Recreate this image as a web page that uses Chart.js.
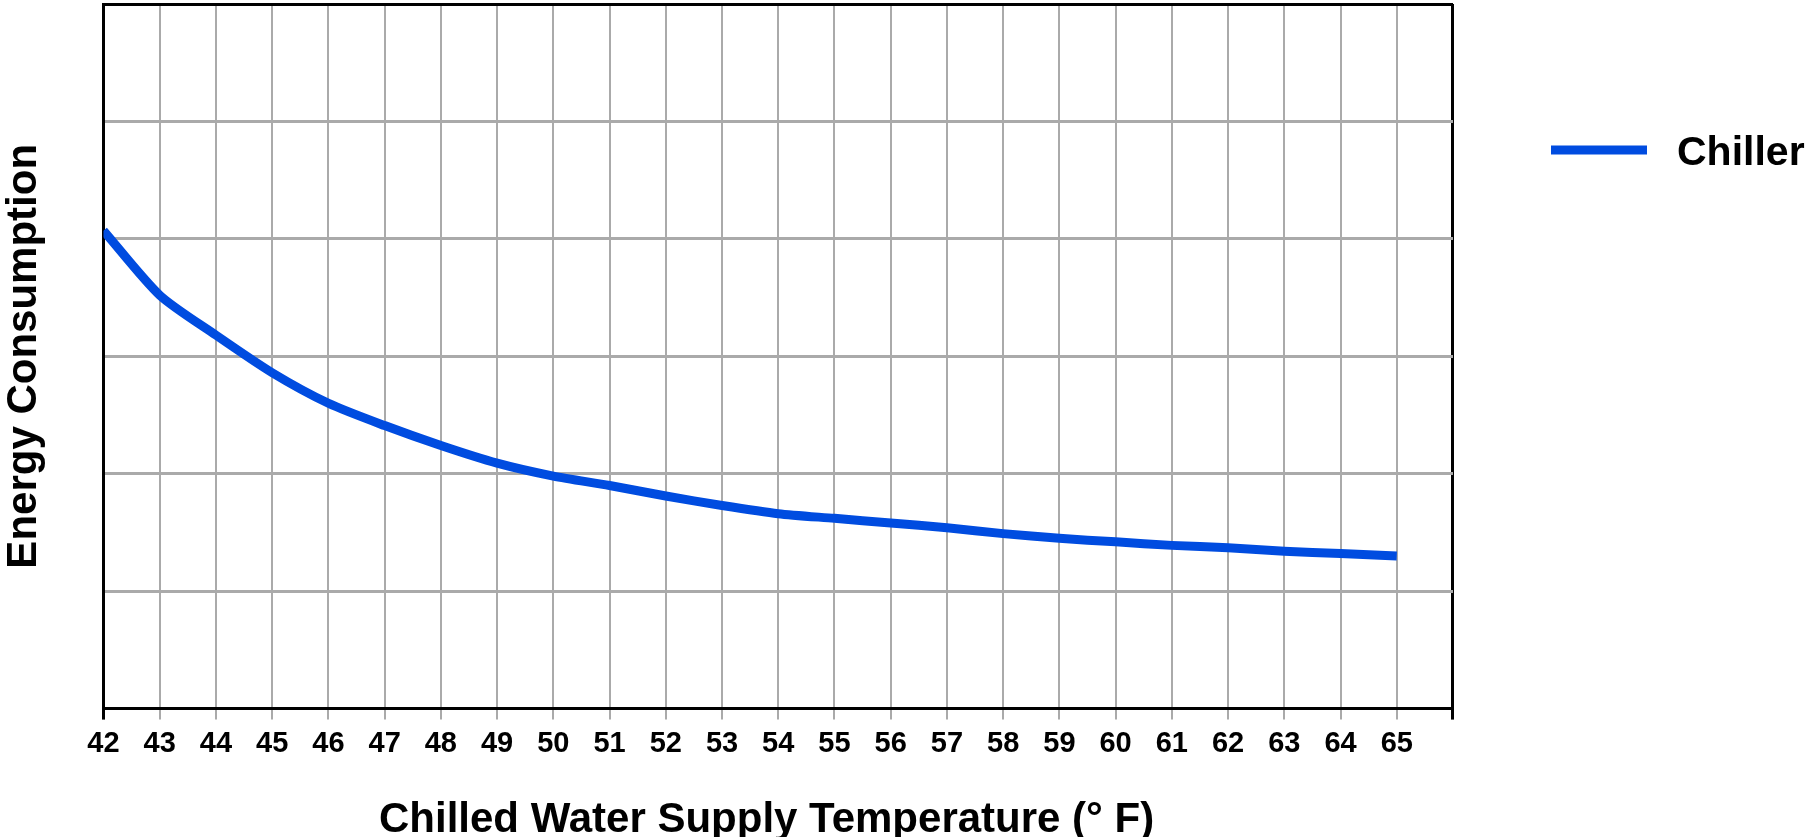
<!DOCTYPE html>
<html>
<head>
<meta charset="utf-8">
<script src="https://cdn.jsdelivr.net/npm/chart.js@4.4.1/dist/chart.umd.min.js"></script>
<style>
  html, body { margin:0; padding:0; background:#fff; }
  #wrap { width:1816px; height:837px; position:relative; }
</style>
</head>
<body>
<div id="wrap"><canvas id="chart"></canvas></div>
<script>
// chiller energy vs chilled water supply temp
const temps = [42,43,44,45,46,47,48,49,50,51,52,53,54,55,56,57,58,59,60,61,62,63,64,65]
const chiller = [4.07,3.52,3.18,2.86,2.60,2.41,2.24,2.09,1.98,1.90,1.81,1.73,1.66,1.62,1.58,1.54,1.49,1.45,1.42,1.39,1.37,1.34,1.32,1.30]
const xMin = 42, xMax = 66
const yMin = 0, yMax = 6
const xTitle = 'Chilled Water Supply Temperature (\u00b0 F)  '
const yTitle = 'Energy Consumption'
const seriesLabel = 'Chiller'

const FONT = '"Liberation Sans", Arial, Helvetica, sans-serif'
const BLUE = '#004ce0'
const GRID = '#aaaaaa'

const isEdgeX = (c) => c.tick && (c.tick.value===xMin || c.tick.value===xMax)

// legend drawn to the right of the plot, near the top
const sideLegend = {
  id: 'sideLegend',
  afterDraw(chart){
    const {ctx, chartArea} = chart
    const ds = chart.data.datasets[0]
    const x0 = chartArea.right + 98
    ctx.save()
    ctx.strokeStyle = ds.borderColor
    ctx.lineWidth = 9
    ctx.lineCap = 'butt'
    ctx.beginPath(); ctx.moveTo(x0, 150); ctx.lineTo(x0+96, 150); ctx.stroke()
    ctx.fillStyle = '#000'
    ctx.font = `bold 41px ${FONT}`
    ctx.textBaseline = 'middle'
    ctx.textAlign = 'left'
    ctx.fillText(ds.label, x0+126, 154)
    ctx.restore()
  }
}

new Chart(document.getElementById('chart'), {
  type: 'line',
  data: {
    datasets: [{
      label: seriesLabel,
      data: temps.map((t,i)=>({x:t, y:chiller[i]})),
      borderColor: BLUE,
      backgroundColor: BLUE,
      borderWidth: 9,
      borderCapStyle: 'butt',
      pointRadius: 0,
      tension: 0.25,
      fill: false
    }]
  },
  options: {
    responsive: true,
    maintainAspectRatio: false,
    animation: false,
    layout: { padding: { top:4, right:363, bottom:0, left:0 } },
    plugins: { legend: { display:false }, tooltip: { enabled:false } },
    scales: {
      x: {
        type: 'linear', min: xMin, max: xMax,
        border: { display:true, color:'#000', width:3 },
        grid: {
          color: c => isEdgeX(c) ? '#000' : GRID,
          lineWidth: c => isEdgeX(c) ? 3 : 2,
          tickLength: 11
        },
        ticks: {
          stepSize: 1, autoSkip:false, maxRotation:0, padding:7,
          color:'#000',
          font: { family:FONT, size:29, weight:'bold', lineHeight:1.2 },
          callback: v => v===xMax ? '' : v
        },
        title: {
          display:true, text:xTitle, color:'#000',
          font: { family:FONT, size:42, weight:'bold', lineHeight:0.8 },
          padding: { top:35, bottom:0 }
        }
      },
      y: {
        min: yMin, max: yMax,
        border: { display:true, color:'#000', width:3 },
        grid: {
          color: c => (c.tick && c.tick.value===yMax) ? '#000' : GRID,
          lineWidth: 3,
          drawTicks: false
        },
        ticks: { display:false, stepSize:1 },
        title: {
          display:true, text:yTitle, color:'#000',
          font: { family:FONT, size:42, weight:'bold', lineHeight:0.857 },
          padding: { top:6, bottom:61.5 }
        }
      }
    }
  },
  plugins: [sideLegend]
})
</script>
</body>
</html>
